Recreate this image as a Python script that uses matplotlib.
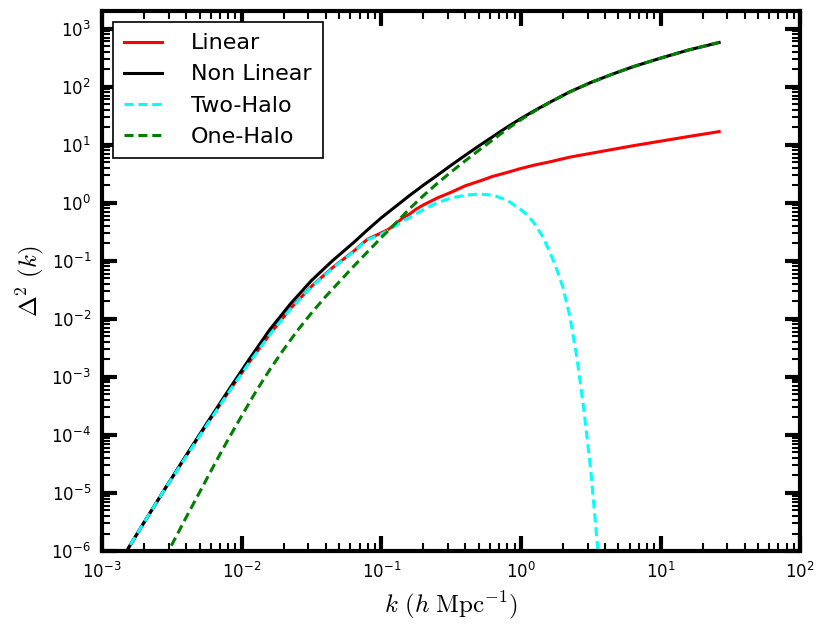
import numpy as np
import matplotlib
matplotlib.use('Agg')
import matplotlib.pyplot as plt

# ---------------- data (log10 values) ----------------
logk_lin = [-2.85, -2.7, -2.55, -2.4, -2.25, -2.1, -1.95, -1.8, -1.65, -1.5, -1.35,
            -1.2, -1.1, -1.0, -0.95, -0.9, -0.85, -0.8, -0.75, -0.7, -0.6, -0.5,
            -0.4, -0.3, -0.2, -0.1, 0.0, 0.1, 0.2, 0.35, 0.5, 0.65, 0.8, 1.0, 1.2, 1.42]
logD_lin = [-6.10, -5.51, -4.93, -4.37, -3.82, -3.28, -2.76, -2.27, -1.82, -1.44, -1.12,
            -0.84, -0.63, -0.52, -0.46, -0.37, -0.27, -0.20, -0.11, -0.04, 0.08, 0.18,
            0.29, 0.37, 0.455, 0.52, 0.59, 0.65, 0.70, 0.785, 0.85, 0.915, 0.98, 1.06,
            1.14, 1.225]

logk_nl = [-2.85, -2.7, -2.55, -2.4, -2.25, -2.1, -1.95, -1.8, -1.65, -1.5, -1.35,
           -1.2, -1.1, -1.0, -0.9, -0.8, -0.7, -0.6, -0.5, -0.4, -0.3, -0.2, -0.1,
           0.0, 0.1, 0.2, 0.35, 0.5, 0.65, 0.8, 1.0, 1.2, 1.42]
logD_nl = [-6.10, -5.51, -4.93, -4.36, -3.80, -3.25, -2.71, -2.19, -1.74, -1.34, -1.00,
           -0.69, -0.47, -0.26, -0.07, 0.12, 0.30, 0.47, 0.645, 0.815, 0.98, 1.14, 1.30,
           1.45, 1.59, 1.72, 1.91, 2.07, 2.21, 2.34, 2.49, 2.63, 2.76]

logk_two = [-2.85, -2.7, -2.55, -2.4, -2.25, -2.1, -1.95, -1.8, -1.65, -1.5, -1.35,
            -1.2, -1.1, -1.0, -0.95, -0.9, -0.85, -0.8, -0.75, -0.7, -0.65, -0.6,
            -0.5, -0.4, -0.3, -0.2, -0.1, 0.0, 0.05, 0.1, 0.15, 0.2, 0.25, 0.3,
            0.35, 0.4, 0.45, 0.5, 0.55, 0.57]
logD_two = [-6.10, -5.51, -4.93, -4.38, -3.83, -3.29, -2.77, -2.28, -1.83, -1.45, -1.13,
            -0.85, -0.64, -0.54, -0.48, -0.40, -0.32, -0.26, -0.19, -0.12, -0.06, 0.0,
            0.08, 0.13, 0.15, 0.13, 0.045, -0.12, -0.22, -0.37, -0.56, -0.81, -1.10,
            -1.45, -1.95, -2.65, -3.55, -4.60, -5.95, -6.40]

logk_one = [-2.55, -2.5, -2.4, -2.3, -2.2, -2.1, -2.0, -1.9, -1.8, -1.7, -1.6, -1.5,
            -1.4, -1.3, -1.2, -1.1, -1.0, -0.9, -0.8, -0.7, -0.6, -0.5, -0.4, -0.3,
            -0.2, -0.1, 0.0, 0.1, 0.2, 0.35, 0.5, 0.65, 0.8, 1.0, 1.2, 1.42]
logD_one = [-6.12, -5.89, -5.43, -4.98, -4.53, -4.09, -3.67, -3.26, -2.88, -2.53, -2.20,
            -1.90, -1.62, -1.36, -1.10, -0.85, -0.60, -0.36, -0.11, 0.12, 0.33, 0.53,
            0.72, 0.905, 1.085, 1.265, 1.43, 1.58, 1.72, 1.91, 2.07, 2.21, 2.34, 2.49,
            2.63, 2.76]

labels = ['Linear', 'Non Linear', 'Two-Halo', 'One-Halo']
colors = ['red', 'black', 'cyan', 'green']


# ---------------- plot ----------------
plt.rcParams['mathtext.fontset'] = 'cm'
plt.rcParams['lines.scale_dashes'] = False
plt.rcParams['axes.unicode_minus'] = False

fig = plt.figure(figsize=(8.3, 6.33), dpi=100)
ax = fig.add_axes([0.123, 0.1295, 0.841, 0.853])

series = [(logk_lin, logD_lin), (logk_nl, logD_nl), (logk_two, logD_two), (logk_one, logD_one)]
for i, (lk, ld) in enumerate(series):
    k = 10 ** np.array(lk)
    d = 10 ** np.array(ld)
    if labels[i] in ('Two-Halo', 'One-Halo'):
        ax.plot(k, d, color=colors[i], lw=2.2, dashes=(6.5, 3.5), label=labels[i])
    else:
        ax.plot(k, d, color=colors[i], lw=2.2, label=labels[i])

ax.set_xscale('log')
ax.set_yscale('log')
ax.set_xlim(1e-3, 1e2)
ax.set_ylim(1e-6, 2e3)

for side in ax.spines.values():
    side.set_linewidth(3)
ax.tick_params(which='major', direction='in', length=11, width=3, top=True, right=True,
               labelsize=12, pad=8)
ax.tick_params(which='minor', direction='in', length=6, width=1.5, top=True, right=True)

ax.set_xlabel(r'$k\ (h\ \mathrm{Mpc}^{-1})$', fontsize=18, labelpad=5)
ax.set_ylabel(r'$\Delta^2\ (k)$', fontsize=18)

leg = ax.legend(loc='upper left', fontsize=16, fancybox=False, framealpha=1,
                handlelength=1.7, borderpad=0.5, labelspacing=0.5, handletextpad=1.3)
leg.get_frame().set_edgecolor('black')
leg.get_frame().set_linewidth(1.2)

fig.savefig('out.png', dpi=100)
